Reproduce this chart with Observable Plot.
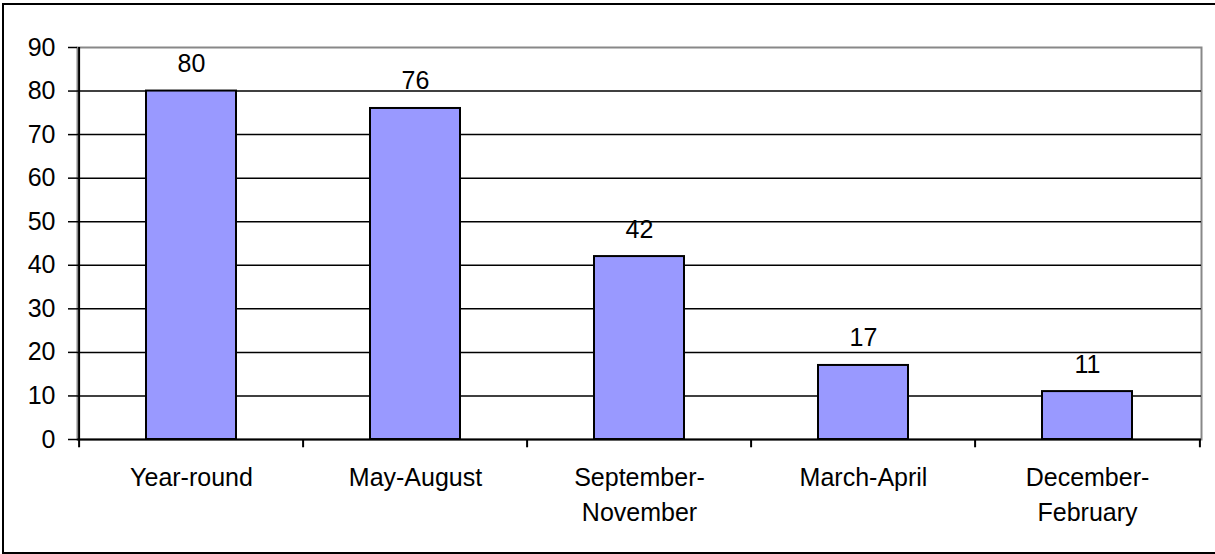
<!DOCTYPE html>
<html>
<head>
<meta charset="utf-8">
<script src="https://cdn.jsdelivr.net/npm/d3@7"></script>
<script src="https://cdn.jsdelivr.net/npm/@observablehq/plot@0.6"></script>
<style>
  html, body { margin: 0; padding: 0; background: white; }
</style>
</head>
<body>
<div id="chart"></div>
<script>
const categories = ["Year-round", "May-August", "September-November", "March-April", "December-February"];
const values = [80, 76, 42, 17, 11];
const tickLabels = ["Year-round", "May-August", "September-\nNovember", "March-April", "December-\nFebruary"];
const yTicks = [0, 10, 20, 30, 40, 50, 60, 70, 80, 90];

const W = 1215, H = 554, ML = 77, MR = 14, MT = 47, MB = 115;
const step = (W - ML - MR) / categories.length;
const FONT = 25;

const plot = Plot.plot({
  width: W, height: H,
  marginLeft: ML, marginRight: MR, marginTop: MT, marginBottom: MB,
  style: { fontFamily: "'Liberation Sans', Arial, sans-serif", background: "white", color: "black" },
  x: { type: "band", domain: categories, padding: 0, axis: null },
  y: { domain: [0, 90], axis: null },
  marks: [
    Plot.frame({ stroke: "#888", strokeWidth: 2 }),
    Plot.ruleY(yTicks.filter(d => d > 0 && d < 90), { stroke: "black", strokeWidth: 1.5 }),
    Plot.barY(values, { x: categories, y: values, fill: "#9999FF", stroke: "black", strokeWidth: 2, insetLeft: 67, insetRight: 67 }),
    Plot.text(values, { x: categories, y: values, text: d => String(d), lineAnchor: "bottom", dy: -19, fontSize: FONT }),
    Plot.axisY({ ticks: yTicks, tickSize: 9, tickPadding: 13, fontSize: FONT, strokeWidth: 1.5 }),
    Plot.ruleX([categories[0]], { dx: -step / 2, y1: 0, y2: 90, stroke: "black", strokeWidth: 2 }),
    Plot.ruleY([0], { stroke: "black", strokeWidth: 2 }),
    Plot.ruleX(categories, { dx: -step / 2, y1: 0, y2: -1.9, stroke: "black", strokeWidth: 2 }),
    Plot.ruleX([categories[categories.length - 1]], { dx: step / 2, y1: 0, y2: -1.9, stroke: "black", strokeWidth: 2 }),
    Plot.text(categories, { x: d => d, y: () => 0, text: tickLabels, lineAnchor: "top", dy: 22, lineHeight: 1.4, fontSize: FONT })
  ]
});

d3.select(plot).append("rect")
  .attr("x", 3).attr("y", 4).attr("width", 1230).attr("height", 549)
  .attr("fill", "none").attr("stroke", "black").attr("stroke-width", 2);

document.getElementById("chart").appendChild(plot);
</script>
</body>
</html>
